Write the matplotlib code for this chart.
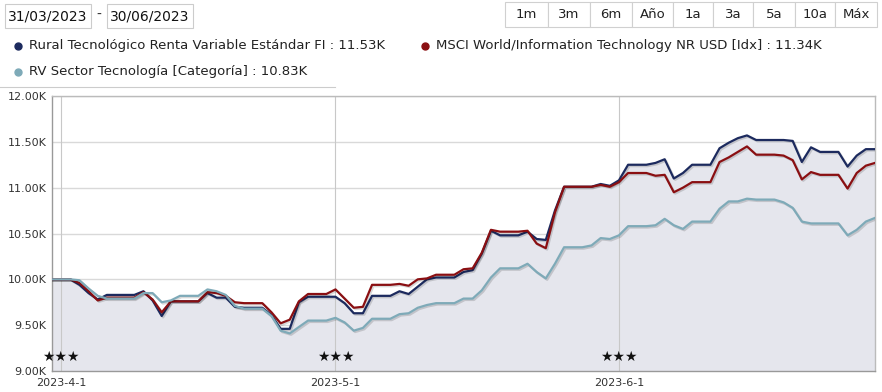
import numpy as np
import pandas as pd
import matplotlib
matplotlib.use("Agg")
from matplotlib import pyplot as plt
from matplotlib.patches import Rectangle
import matplotlib.patheffects as pe

W, H = 882, 392  # figure size in px

def fx(px):
    return px / W

def fy(py):
    return 1 - py / H

# daily values (in thousands), 31/03/2023 .. 29/06/2023
dates = pd.date_range("2023-03-31", "2023-06-29", freq="D")

rural = [10.00, 10.00, 10.00, 9.94, 9.85, 9.78, 9.83, 9.83, 9.83, 9.83,
         9.87, 9.77, 9.60, 9.76, 9.76, 9.76, 9.76, 9.85, 9.80, 9.80,
         9.70, 9.69, 9.69, 9.69, 9.61, 9.46, 9.46, 9.75, 9.81, 9.81,
         9.81, 9.81, 9.74, 9.63, 9.63, 9.82, 9.82, 9.82, 9.87, 9.84,
         9.92, 10.00, 10.02, 10.02, 10.02, 10.08, 10.10, 10.28, 10.53, 10.48,
         10.48, 10.48, 10.52, 10.44, 10.43, 10.75, 11.01, 11.01, 11.01, 11.01,
         11.04, 11.02, 11.08, 11.25, 11.25, 11.25, 11.27, 11.31, 11.10, 11.16,
         11.25, 11.25, 11.25, 11.43, 11.49, 11.54, 11.57, 11.52, 11.52, 11.52,
         11.52, 11.51, 11.28, 11.44, 11.39, 11.39, 11.39, 11.23, 11.35, 11.42,
         11.42]

msci = [10.00, 10.00, 10.00, 9.96, 9.87, 9.77, 9.80, 9.80, 9.80, 9.80,
        9.86, 9.78, 9.64, 9.76, 9.76, 9.76, 9.76, 9.86, 9.85, 9.82,
        9.75, 9.74, 9.74, 9.74, 9.64, 9.52, 9.56, 9.76, 9.84, 9.84,
        9.84, 9.89, 9.79, 9.69, 9.70, 9.94, 9.94, 9.94, 9.95, 9.93,
        10.00, 10.01, 10.05, 10.05, 10.05, 10.11, 10.12, 10.29, 10.54, 10.52,
        10.52, 10.52, 10.53, 10.39, 10.34, 10.73, 11.01, 11.01, 11.01, 11.01,
        11.03, 11.01, 11.06, 11.16, 11.16, 11.16, 11.13, 11.14, 10.95, 11.00,
        11.06, 11.06, 11.06, 11.28, 11.33, 11.39, 11.45, 11.36, 11.36, 11.36,
        11.35, 11.30, 11.09, 11.17, 11.14, 11.14, 11.14, 10.99, 11.16, 11.24,
        11.27]

categoria = [10.00, 10.00, 10.00, 9.99, 9.90, 9.82, 9.79, 9.79, 9.79, 9.79,
             9.85, 9.85, 9.75, 9.77, 9.82, 9.82, 9.82, 9.89, 9.87, 9.83,
             9.71, 9.68, 9.68, 9.68, 9.60, 9.44, 9.41, 9.48, 9.55, 9.55,
             9.55, 9.58, 9.53, 9.44, 9.47, 9.57, 9.57, 9.57, 9.62, 9.63,
             9.69, 9.72, 9.74, 9.74, 9.74, 9.79, 9.79, 9.88, 10.02, 10.12,
             10.12, 10.12, 10.17, 10.08, 10.01, 10.17, 10.35, 10.35, 10.35, 10.37,
             10.45, 10.44, 10.48, 10.58, 10.58, 10.58, 10.59, 10.66, 10.59, 10.55,
             10.63, 10.63, 10.63, 10.77, 10.85, 10.85, 10.88, 10.87, 10.87, 10.87,
             10.84, 10.78, 10.63, 10.61, 10.61, 10.61, 10.61, 10.48, 10.54, 10.63,
             10.67]

series_names = ["Rural Tecnológico Renta Variable Estándar FI : 11.53K",
                "MSCI World/Information Technology NR USD [Idx] : 11.34K",
                "RV Sector Tecnología [Categoría] : 10.83K"]
colors = ["#1c2a5e", "#8a0f12", "#7eaab8"]

month_ticks = pd.to_datetime(["2023-04-01", "2023-05-01", "2023-06-01"])
month_labels = ["2023-4-1", "2023-5-1", "2023-6-1"]
y_ticks = [9.0, 9.5, 10.0, 10.5, 11.0, 11.5, 12.0]

buttons = ["1m", "3m", "6m", "Año", "1a", "3a", "5a", "10a", "Máx"]
button_edges = [505, 548, 590, 632, 673, 713, 753, 795, 835, 877]

fig = plt.figure(figsize=(W / 100, H / 100), dpi=100)

# --- header: date boxes and period buttons
def box(x0, y0, x1, y1, ec="#cccccc"):
    fig.add_artist(Rectangle((fx(x0), fy(y1)), fx(x1) - fx(x0), fy(y0) - fy(y1),
                             transform=fig.transFigure, fc="white", ec=ec, lw=0.8))

box(5, 4, 91, 28)
fig.text(fx(48), fy(16), "31/03/2023", ha="center", va="center", fontsize=10, color="#111111")
fig.text(fx(99), fy(15), "-", ha="center", va="center", fontsize=10, color="#333333")
box(107, 4, 193, 28)
fig.text(fx(150), fy(16), "30/06/2023", ha="center", va="center", fontsize=10, color="#111111")

for i, b in enumerate(buttons):
    box(button_edges[i], 2, button_edges[i + 1], 27, ec="#d0d0d0")
    fig.text(fx((button_edges[i] + button_edges[i + 1]) / 2), fy(15), b,
             ha="center", va="center", fontsize=9.5, color="#222222")

# --- legend
leg_pos = [(18, 46), (425, 46), (18, 72)]
for (px, py), name, c in zip(leg_pos, series_names, colors):
    fig.add_artist(plt.Line2D([fx(px)], [fy(py)], marker="o", ms=5, color=c,
                              transform=fig.transFigure))
    fig.text(fx(px + 11), fy(py), name, ha="left", va="center", fontsize=9.5, color="#222222")
fig.add_artist(plt.Line2D([0, fx(335)], [fy(87), fy(87)], color="#cccccc", lw=0.8,
                          transform=fig.transFigure))

# --- chart
ax = fig.add_axes([fx(52), fy(371), fx(875) - fx(52), fy(96) - fy(371)])
ax.fill_between(dates, rural, 9.0, color="#e5e6ed", lw=0, zorder=1)

for y in y_ticks:
    ax.axhline(y, color="#d9d9d9", lw=1, zorder=0.5)
for m in month_ticks:
    ax.axvline(m, color="#c8c8c8", lw=0.8, zorder=1.5)

shadow = [pe.SimpleLineShadow(offset=(1, -1), alpha=0.15, shadow_color="black"), pe.Normal()]
for vals, c in zip([rural, msci, categoria], colors):
    ax.plot(dates, vals, color=c, lw=1.6, zorder=3, path_effects=shadow)

for m in month_ticks:
    ax.text(m, 9.15, "★★★", ha="center", va="center", fontsize=10, color="#111111", zorder=4)

ax.set_xlim(dates[0], dates[-1])
ax.set_ylim(9.0, 12.0)
ax.set_yticks(y_ticks)
ax.set_yticklabels([f"{v:.2f}K" for v in y_ticks])
ax.set_xticks(month_ticks)
ax.set_xticklabels(month_labels)
ax.tick_params(axis="both", length=0, labelsize=8, colors="#333333")
ax.tick_params(axis="y", pad=4)
ax.tick_params(axis="x", pad=5)
for s in ["top", "right"]:
    ax.spines[s].set_color("#bbbbbb")
for s in ["left", "bottom"]:
    ax.spines[s].set_color("#999999")
for s in ax.spines.values():
    s.set_linewidth(1)

fig.savefig("out.png", dpi=100)
